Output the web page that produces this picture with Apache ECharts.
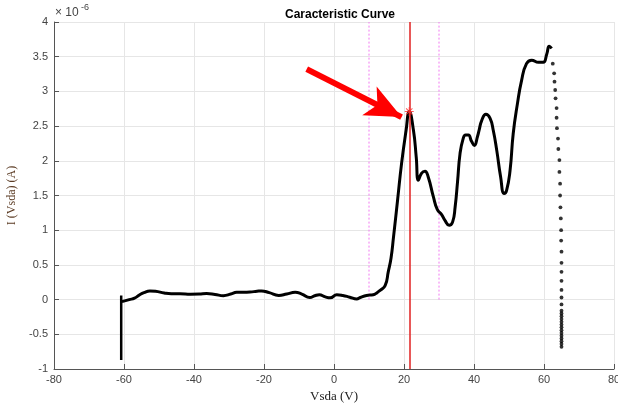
<!DOCTYPE html>
<html>
<head>
<meta charset="utf-8">
<script src="https://cdn.jsdelivr.net/npm/echarts@6/dist/echarts.min.js"></script>
<style>
  html, body { margin: 0; padding: 0; background: #fff; }
  #chart { width: 618px; height: 408px; }
</style>
</head>
<body>
<div id="chart"></div>
<script>
// Vsda (V) and I (x1e-6 A)
var curveV = [-60.6, -58.5, -57, -55.5, -54.3, -52.6, -51, -48.5, -46.5, -44, -41, -38.5, -36.4, -34, -31.6,
  -29.5, -27.8, -24, -22, -20.7, -18.5, -15.8, -13.5, -11.1, -9.2, -6.9, -5.5, -4.2, -2.5, -1.1, 0.8, 2.5,
  4.5, 6.5, 7.5, 9.3, 11.2, 12.3, 13.1, 14.6, 15.5, 16.3, 17, 18.2, 19.3, 20.6, 21.5, 22.7, 23.5, 24.1, 25,
  26, 26.9, 28.4, 29.5, 30.8, 31.7, 32.9, 33.9, 34.6, 35.3, 36, 36.9, 37.6, 38.4, 39.3, 40.1, 41, 41.5, 42.2,
  43.4, 44.6, 45.5, 46.5, 47.6, 48.6, 49.3, 50.3, 51.2, 52.4, 53.6, 55, 56.5, 58.4, 59.8, 60.8, 61.5, 62.2];
var curveI = [-0.03, 0.0, 0.02, 0.07, 0.10, 0.125, 0.12, 0.095, 0.085, 0.085, 0.078, 0.08, 0.087, 0.075, 0.057,
  0.08, 0.105, 0.11, 0.12, 0.125, 0.1, 0.06, 0.08, 0.105, 0.08, 0.03, 0.055, 0.07, 0.04, 0.025, 0.07, 0.06,
  0.035, 0.01, 0.03, 0.06, 0.07, 0.1, 0.13, 0.2, 0.4, 0.6, 0.9, 1.45, 1.96, 2.44, 2.71, 2.44, 2.05, 1.72, 1.82,
  1.85, 1.77, 1.48, 1.3, 1.22, 1.14, 1.07, 1.12, 1.33, 1.7, 2.1, 2.32, 2.37, 2.37, 2.28, 2.22, 2.35, 2.45, 2.58,
  2.67, 2.61, 2.44, 2.15, 1.77, 1.53, 1.57, 1.86, 2.39, 2.82, 3.16, 3.4, 3.45, 3.42, 3.42, 3.54, 3.65, 3.62];

// start of the sweep (vertical jump at -60.8 V)
var startV = [-60.8, -60.8];
var startI = [-0.87, 0.06];

// sparse dots of the drop after the last peak
var dropV = [62.5, 62.9, 63.0, 63.2, 63.3, 63.6, 63.6, 63.7, 64.0, 64.1, 64.4, 64.4, 64.6, 64.6, 64.7, 64.8,
  64.9, 64.9, 65.0, 65.0, 65.0, 65.0, 65.0, 65.0, 65.0, 65.0, 65.0, 65.0, 65.0, 65.0, 65.0, 65.0, 65.0,
  65.0, 65.0, 65.0, 65.0, 65.0, 65.0];
var dropI = [3.40, 3.26, 3.14, 3.02, 2.90, 2.76, 2.62, 2.47, 2.32, 2.17, 2.01, 1.84, 1.67, 1.50, 1.33, 1.17,
  1.00, 0.85, 0.69, 0.53, 0.40, 0.27, 0.14, 0.03, -0.07, -0.16, -0.20, -0.24, -0.28, -0.32, -0.36, -0.40,
  -0.44, -0.48, -0.52, -0.56, -0.60, -0.64, -0.68];

var peakV = 21.5, peakI = 2.71;
var limitV = [10, 30];
var limitI = [0, 4];
var arrowFrom = [-7.8, 3.32];
var arrowTo = [19.3, 2.63];

function pairs(xs, ys) {
  var out = [];
  for (var i = 0; i < xs.length; i++) out.push([xs[i], ys[i]]);
  return out;
}

var chart = echarts.init(document.getElementById('chart'), null, { renderer: 'canvas' });

var axisColor = '#555555';
var gridColor = '#e6e6e6';
var sans = 'Liberation Sans, Arial, sans-serif';
var serif = 'Liberation Serif, Times New Roman, serif';

function limitSeries(v) {
  return {
    type: 'line',
    data: [[v, limitI[0]], [v, limitI[1]]],
    showSymbol: false,
    silent: true,
    lineStyle: { color: '#f27af2', type: [2, 2], width: 1 },
    z: 1
  };
}

var option = {
  animation: false,
  backgroundColor: '#ffffff',
  title: {
    text: 'Caracteristic Curve',
    left: 335,
    textAlign: 'center',
    top: 4,
    textStyle: { fontFamily: sans, fontSize: 12, fontWeight: 'bold', color: '#000' }
  },
  graphic: [
    { type: 'text', left: 55, top: 7, style: { text: '× 10', font: '12px ' + sans, fill: '#444' } },
    { type: 'text', left: 81, top: 3, style: { text: '-6', font: '9px ' + sans, fill: '#444' } }
  ],
  grid: { left: 54, right: 4, top: 22, bottom: 39, containLabel: false, outerBoundsMode: 'none' },
  xAxis: {
    type: 'value',
    min: -80, max: 80, interval: 20,
    name: 'Vsda (V)',
    nameLocation: 'middle',
    nameGap: 13,
    nameTextStyle: { fontFamily: serif, fontSize: 13, color: '#222' },
    axisLine: { show: true, onZero: false, lineStyle: { color: axisColor, width: 1 } },
    axisTick: { show: true, inside: true, length: 5, lineStyle: { color: axisColor } },
    axisLabel: { fontFamily: sans, fontSize: 11, color: '#444', margin: 5 },
    splitLine: { show: true, lineStyle: { color: gridColor, width: 1 } }
  },
  yAxis: {
    type: 'value',
    min: -1, max: 4, interval: 0.5,
    name: 'I (Vsda) (A)',
    nameLocation: 'middle',
    nameGap: 28,
    nameTextStyle: { fontFamily: serif, fontSize: 12, color: '#5a3a22' },
    axisLine: { show: true, onZero: false, lineStyle: { color: axisColor, width: 1 } },
    axisTick: { show: true, inside: true, length: 5, lineStyle: { color: axisColor } },
    axisLabel: { fontFamily: sans, fontSize: 11, color: '#444', margin: 6 },
    splitLine: { show: true, lineStyle: { color: gridColor, width: 1 } }
  },
  series: [
    limitSeries(limitV[0]),
    limitSeries(limitV[1]),
    {
      name: 'start',
      type: 'line',
      data: pairs(startV, startI),
      showSymbol: false,
      lineStyle: { color: '#000', width: 2.5 }
    },
    {
      name: 'curve',
      type: 'line',
      data: pairs(curveV, curveI),
      smooth: 0.5,
      showSymbol: false,
      lineStyle: { color: '#000', width: 3 }
    },
    {
      name: 'drop',
      type: 'scatter',
      data: pairs(dropV, dropI),
      symbol: 'circle',
      symbolSize: 3.8,
      itemStyle: { color: '#000' }
    },
    {
      name: 'peak',
      type: 'scatter',
      data: [[peakV, peakI]],
      symbol: 'path://M-0.6,-5 L0.6,-5 L0.6,5 L-0.6,5 Z M-5,-0.6 L5,-0.6 L5,0.6 L-5,0.6 Z M-3.9,-3.1 L-3.1,-3.9 L3.9,3.1 L3.1,3.9 Z M3.1,-3.9 L3.9,-3.1 L-3.1,3.9 L-3.9,3.1 Z',
      symbolSize: 9,
      itemStyle: { color: '#ff3030' },
      z: 5,
      markLine: {
        silent: true,
        symbol: 'none',
        label: { show: false },
        data: [[{ coord: [peakV, -1] }, { coord: [peakV, 4] }]],
        lineStyle: { color: '#e02020', type: 'solid', width: 1.5 }
      }
    },
    {
      name: 'arrow',
      type: 'line',
      data: [],
      markLine: {
        silent: true,
        symbol: ['none', 'arrow'],
        symbolSize: [24, 36],
        label: { show: false },
        data: [[{ coord: arrowFrom }, { coord: arrowTo }]],
        lineStyle: { color: '#ff0000', type: 'solid', width: 6, opacity: 1 }
      }
    }
  ]
};

chart.setOption(option);
</script>
</body>
</html>
